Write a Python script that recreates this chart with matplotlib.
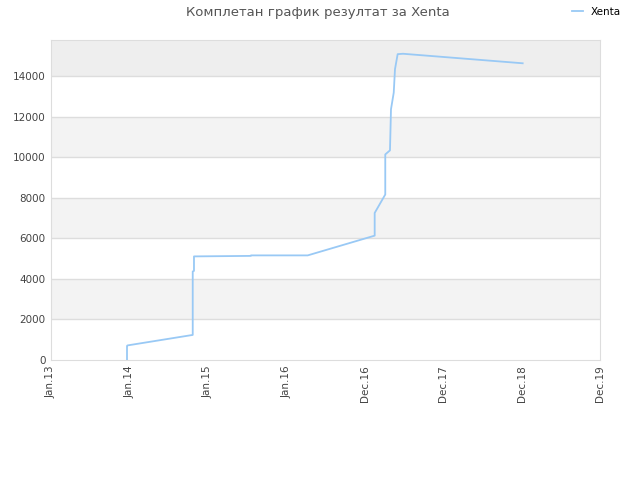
import numpy as np
import matplotlib
matplotlib.use("Agg")
import matplotlib.pyplot as plt

# x in tick units (0 = Jan.13 ... 7 = Dec.19)
x_vals = [0.969, 0.969, 0.975, 1.807, 1.807, 1.823, 1.823, 2.546, 2.55, 3.273,
          4.127, 4.127, 4.262, 4.262, 4.322, 4.335, 4.37, 4.386, 4.42, 4.488, 6.014]
y_vals = [0, 693, 720, 1238, 4370, 4400, 5115, 5140, 5165, 5165,
          6140, 7260, 8170, 10150, 10350, 12380, 13200, 14360, 15100, 15120, 14650]
tick_labels = ['Jan.13', 'Jan.14', 'Jan.15', 'Jan.16', 'Dec.16', 'Dec.17', 'Dec.18', 'Dec.19']
y_ticks = [0, 2000, 4000, 6000, 8000, 10000, 12000, 14000]

fig = plt.figure(figsize=(6.4, 4.8), dpi=100)
ax = fig.add_axes([0.0797, 0.25, 0.8578, 0.6667])

y_top = 15800
# alternating bands, top one a bit darker
for i, lo in enumerate(y_ticks):
    hi = y_ticks[i + 1] if i + 1 < len(y_ticks) else y_top
    if i == len(y_ticks) - 1:
        ax.axhspan(lo, hi, color='#eeeeee', zorder=0, lw=0)
    elif i % 2 == 1:
        ax.axhspan(lo, hi, color='#f3f3f3', zorder=0, lw=0)
for t in y_ticks[1:]:
    ax.axhline(t, color='#dddddd', lw=1, zorder=1)

ax.plot(x_vals, y_vals, color='#99c9f5', lw=1.3, label='Xenta', zorder=3)

ax.set_xlim(0, 7)
ax.set_ylim(0, y_top)
ax.set_xticks(range(len(tick_labels)))
ax.set_xticklabels(tick_labels, rotation=90)
ax.set_yticks(y_ticks)
ax.tick_params(length=0, labelsize=7.5, colors='#444444', pad=4)
for s in ax.spines.values():
    s.set_color('#dddddd')

fig.text(0.497, 0.988, 'Комплетан график резултат за Xenta', ha='center', va='top',
         fontsize=9.5, color='#555555')
fig.legend(loc='upper right', bbox_to_anchor=(0.985, 1.005), frameon=False,
           fontsize=7.5, handlelength=1.0, handletextpad=0.8)

fig.savefig('out.png', dpi=100)
